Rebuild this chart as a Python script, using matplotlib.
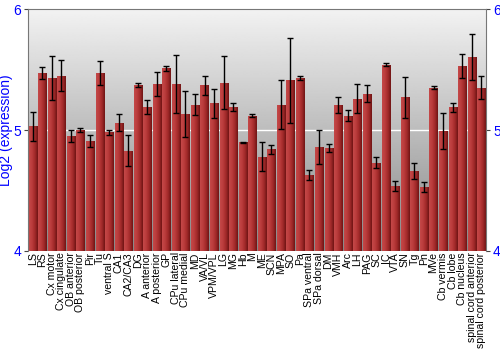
import matplotlib
matplotlib.use('Agg')
import matplotlib.pyplot as plt
import numpy as np

plt.rcParams['font.family'] = ['Liberation Sans', 'DejaVu Sans']

regions = ['LS', 'RS', 'Cx motor', 'Cx cingulate', 'OB anterior', 'OB posterior', 'Pir', 'Tu',
           'ventral S', 'CA1', 'CA2/CA3', 'DG', 'A anterior', 'A posterior', 'GP', 'CPu lateral',
           'CPu medial', 'MD', 'VA/VL', 'VPM/VPL', 'LG', 'MG', 'Hb', 'M', 'ME', 'SCN', 'MPA', 'SO',
           'Pa', 'SPa ventral', 'SPa dorsal', 'DM', 'VMH', 'Arc', 'LH', 'PAG', 'SC', 'IC', 'VTA',
           'SN', 'Tg', 'Pn', 'MVe', 'Cb vermis', 'Cb lobe', 'Cb nucleus', 'spinal cord anterior',
           'spinal cord posterior']
expr = [5.03, 5.47, 5.43, 5.45, 4.95, 5.00, 4.91, 5.47,
        4.98, 5.06, 4.83, 5.37, 5.19, 5.38, 5.51, 5.38,
        5.13, 5.21, 5.37, 5.22, 5.39, 5.19, 4.90, 5.12, 4.78, 4.84, 5.21, 5.41,
        5.43, 4.63, 4.86, 4.85, 5.21, 5.12, 5.26, 5.30, 4.73, 5.54, 4.54,
        5.27, 4.66, 4.53, 5.35, 4.99, 5.19, 5.53, 5.60,
        5.35]
err = [0.12, 0.05, 0.18, 0.13, 0.05, 0.02, 0.05, 0.10,
       0.02, 0.07, 0.13, 0.015, 0.057, 0.097, 0.022, 0.24,
       0.19, 0.086, 0.08, 0.12, 0.22, 0.03, 0.004, 0.015, 0.12, 0.04, 0.20, 0.355,
       0.018, 0.04, 0.144, 0.035, 0.066, 0.046, 0.12, 0.072, 0.044, 0.012, 0.041,
       0.17, 0.069, 0.043, 0.014, 0.15, 0.037, 0.10, 0.19,
       0.094]

fig = plt.figure(figsize=(5, 3.5), dpi=100)
ax = fig.add_axes([0.056, 0.283, 0.916, 0.691])

x = np.arange(len(regions))
ax.set_xlim(-0.5, len(regions) - 0.5)
ax.set_ylim(4, 6)

# background gradient, dark at bottom, light at top
bg = np.linspace(0.53, 0.95, 256).reshape(-1, 1)
ax.imshow(bg, cmap='gray', vmin=0, vmax=1, aspect='auto', origin='lower',
          extent=(-0.5, len(regions) - 0.5, 4, 6), zorder=0)
ax.axhline(5, color='white', lw=1, zorder=1)

bars = ax.bar(x, np.array(expr) - 4, bottom=4, width=0.85, color='none', edgecolor='none', zorder=2)

# horizontal red shading inside each bar
grad = np.linspace(0, 1, 64).reshape(1, -1)
cmap = matplotlib.colors.LinearSegmentedColormap.from_list(
    'barred', ['#c44848', '#bb3c3c', '#a22a2a', '#701414'])
for b in bars:
    x0, y0 = b.get_x(), b.get_y()
    im = ax.imshow(grad, cmap=cmap, aspect='auto',
                   extent=(x0, x0 + b.get_width(), y0, y0 + b.get_height()), zorder=2)
    im.set_clip_path(b)

ax.errorbar(x, expr, yerr=err, fmt='none', ecolor='black', elinewidth=1,
            capsize=2, capthick=1, zorder=3)

ax.set_xticks(x)
ax.set_xticklabels(regions, rotation=90, fontsize=7.6)
ax.tick_params(axis='x', length=0, pad=1)
ax.set_yticks([4, 5, 6])
ax.tick_params(axis='y', labelcolor='blue', labelsize=10, length=3, color='#444444',
               right=True, labelright=True, pad=2)
ax.set_ylabel('Log2 (expression)', color='blue', fontsize=10)
ax.yaxis.set_label_coords(-0.033, 0.5)

for s in ['left', 'right', 'top']:
    ax.spines[s].set_color('#777777')
ax.spines['bottom'].set_visible(False)

fig.savefig('out.png', dpi=100)
